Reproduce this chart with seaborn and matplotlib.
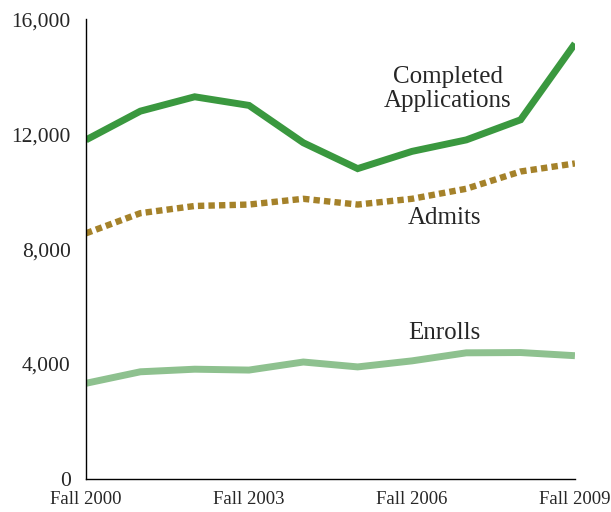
import matplotlib
matplotlib.use("Agg")
import matplotlib.pyplot as plt
import seaborn as sns
import pandas as pd

years = ["Fall 2000", "Fall 2001", "Fall 2002", "Fall 2003", "Fall 2004",
         "Fall 2005", "Fall 2006", "Fall 2007", "Fall 2008", "Fall 2009"]
completed = [11800, 12800, 13300, 13000, 11700, 10800, 11400, 11800, 12500, 15150]
admits = [8550, 9250, 9500, 9550, 9750, 9550, 9750, 10100, 10700, 10980]
enrolls = [3330, 3730, 3820, 3790, 4070, 3900, 4110, 4390, 4400, 4290]
tick_years = ["Fall 2000", "Fall 2003", "Fall 2006", "Fall 2009"]
y_ticks = [0, 4000, 8000, 12000, 16000]

sns.set_style("white")
plt.rcParams["font.family"] = ["Liberation Serif", "DejaVu Serif"]

idx = list(range(len(years)))
df = pd.DataFrame({"x": idx * 3,
                   "value": completed + admits + enrolls,
                   "series": ["Completed Applications"] * len(idx)
                   + ["Admits"] * len(idx) + ["Enrolls"] * len(idx)})

fig = plt.figure(figsize=(6.11, 5.12), dpi=100)
ax = fig.add_axes([0.1408, 0.0645, 0.8002, 0.898])

colors = {"Completed Applications": "#3A983F", "Admits": "#A5822A", "Enrolls": "#8EC18F"}
widths = {"Completed Applications": 5.0, "Admits": 4.6, "Enrolls": 5.0}
for name in ["Enrolls", "Admits", "Completed Applications"]:
    sub = df[df["series"] == name]
    sns.lineplot(data=sub, x="x", y="value", ax=ax, color=colors[name],
                 linewidth=widths[name], legend=False)
    ln = ax.lines[-1]
    ln.set_solid_capstyle("butt")
    ln.set_solid_joinstyle("miter")
    if name == "Admits":
        ln.set_dashes([1.0, 0.65])
        ln.set_dash_capstyle("butt")

ax.set_xlim(0, len(years) - 1)
ax.set_ylim(0, 16000)
ax.set_xticks([years.index(t) for t in tick_years])
ax.set_xticklabels(tick_years, fontsize=13.5)
ax.set_yticks(y_ticks)
ax.set_yticklabels([f"{v:,}" for v in y_ticks], fontsize=15.5)
ax.tick_params(axis="both", length=0)
ax.tick_params(axis="y", pad=11)
ax.tick_params(axis="x", pad=9)
ax.set_xlabel("")
ax.set_ylabel("")
for s in ["top", "right"]:
    ax.spines[s].set_visible(False)
for s in ["left", "bottom"]:
    ax.spines[s].set_color("black")
    ax.spines[s].set_linewidth(1.0)

ax.text(6.66, 13580, "Completed\nApplications", ha="center", va="center",
        fontsize=18, linespacing=1.12)
ax.text(6.59, 9080, "Admits", ha="center", va="center", fontsize=18)
ax.text(6.59, 5080, "Enrolls", ha="center", va="center", fontsize=18)

fig.savefig("out.png", dpi=100)
